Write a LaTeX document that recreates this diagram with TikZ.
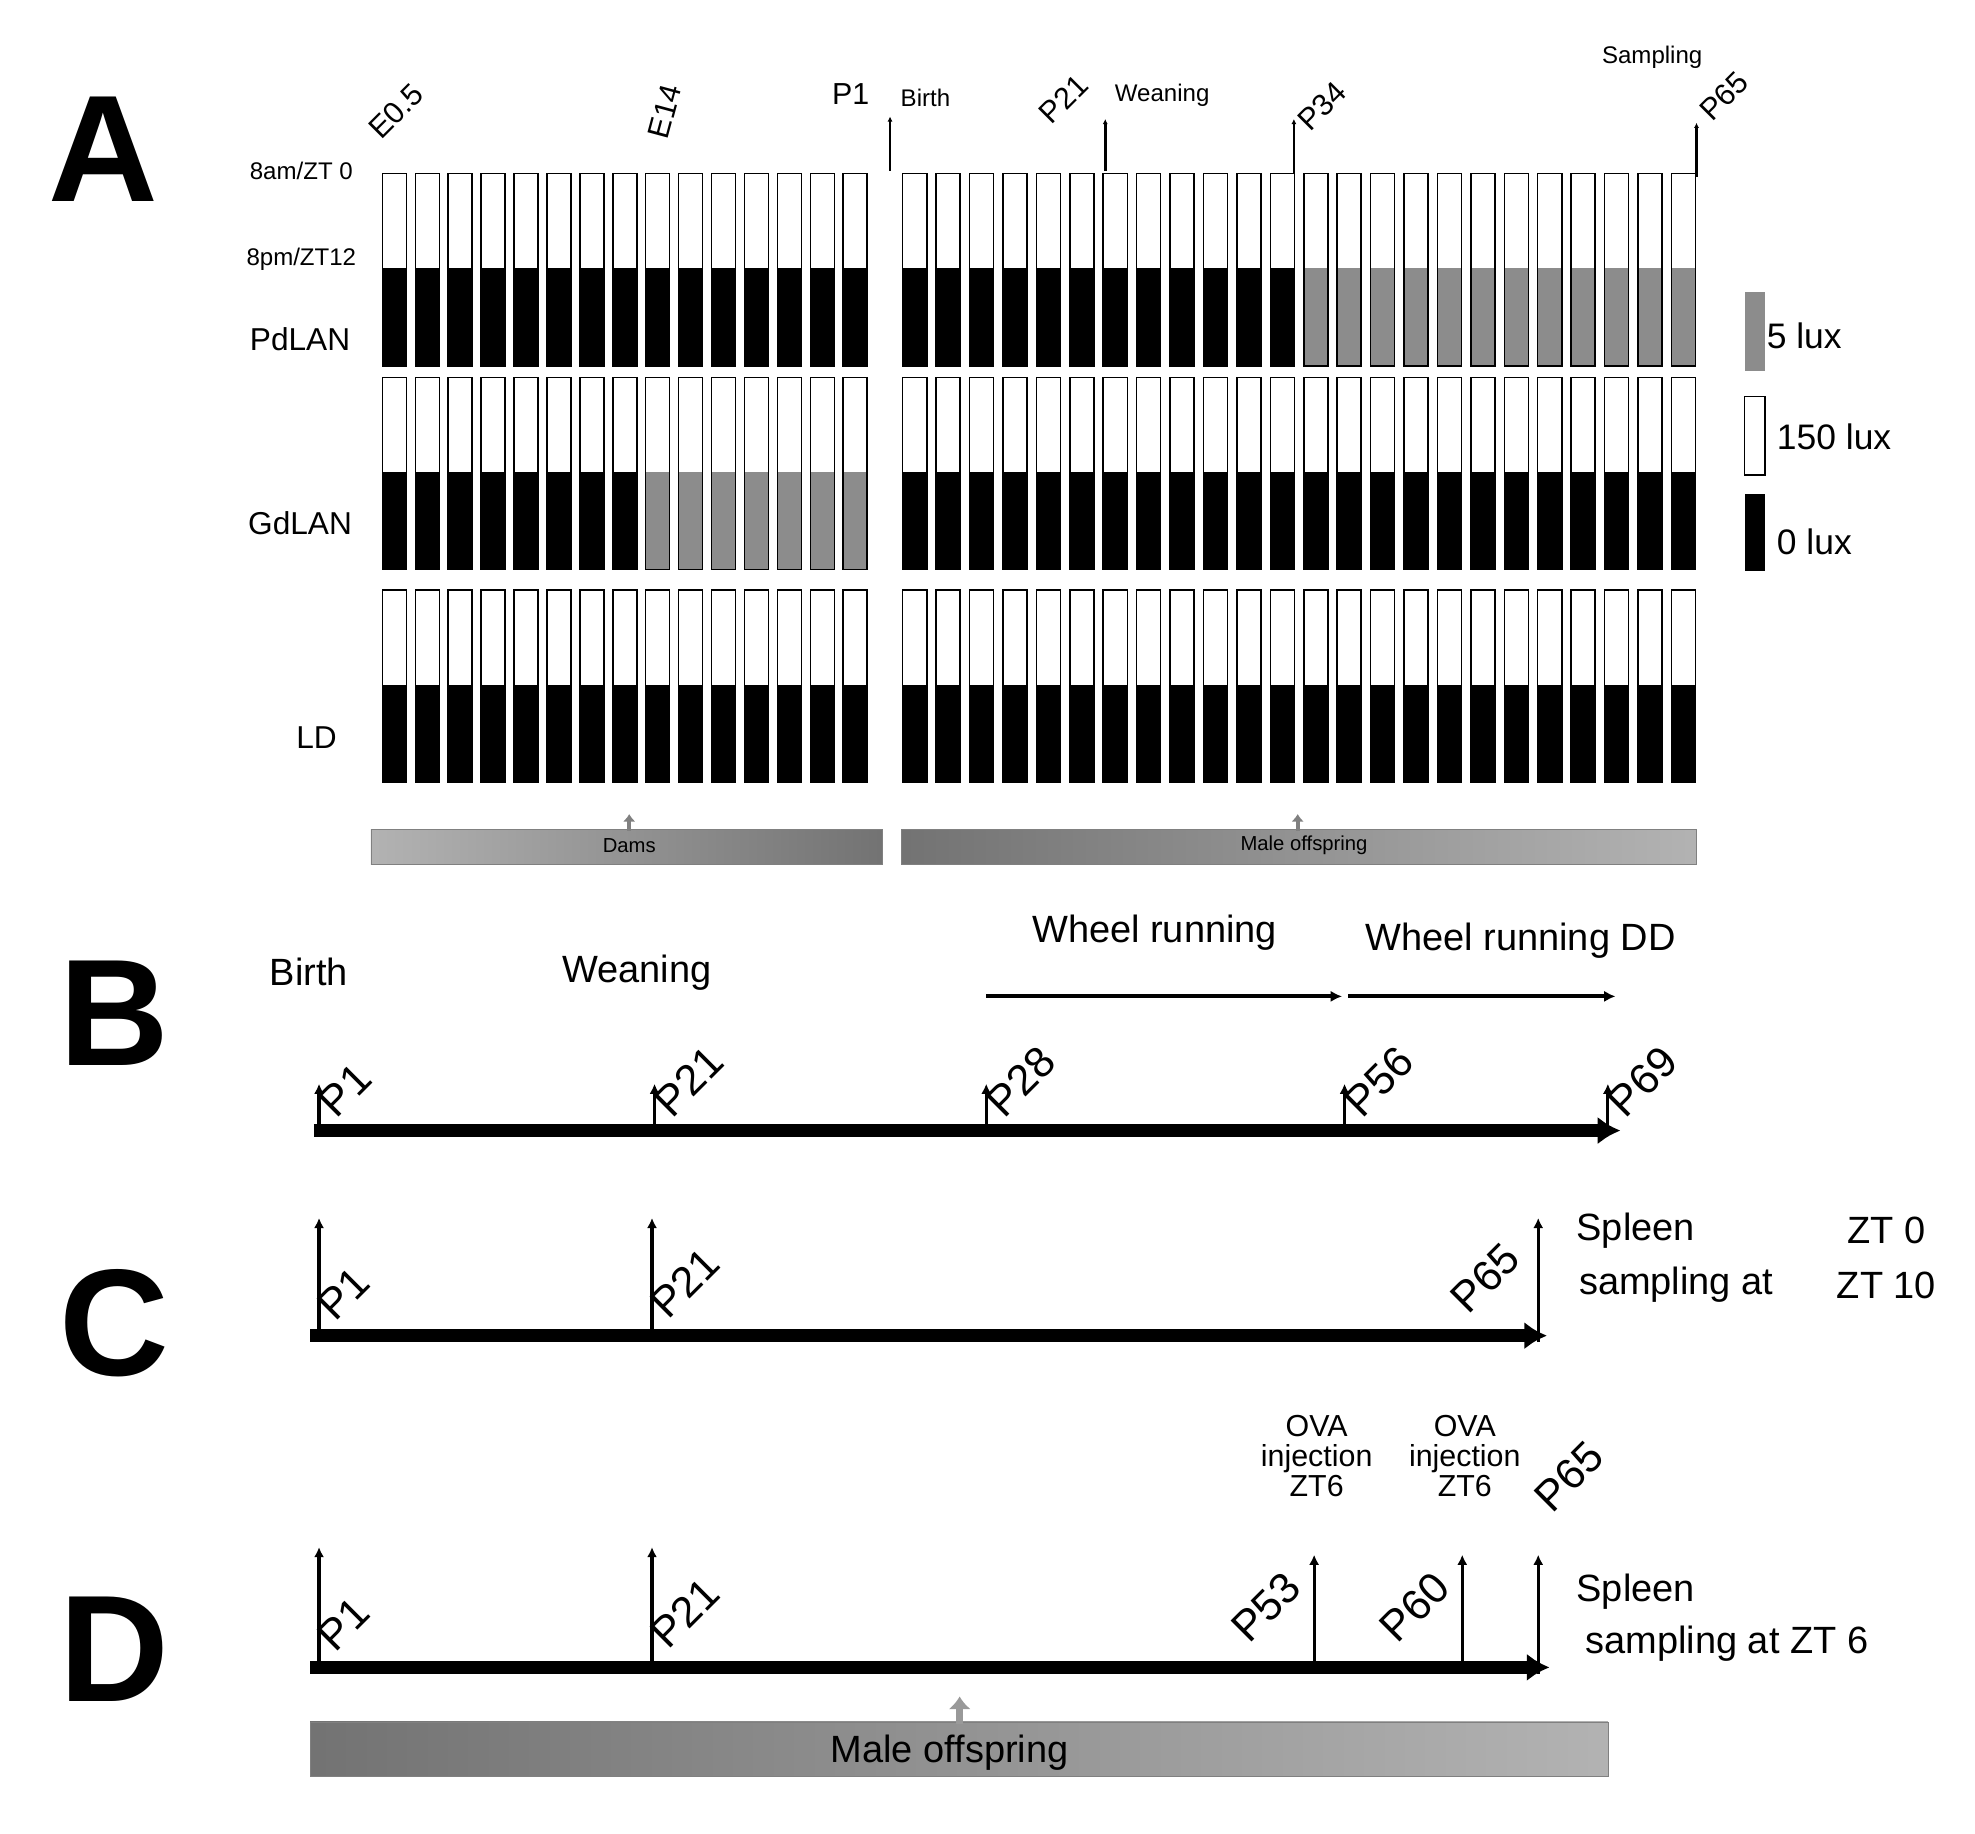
\documentclass[tikz,border=0pt]{standalone}
\usepackage{fontspec}
\setmainfont{Liberation Sans}
\usetikzlibrary{arrows.meta}
\begin{document}
\begin{tikzpicture}[x=1pt,y=-1pt,
  bar/.style={draw=black,line width=1.2pt},
  fs/.style={font=\fontsize{#1}{#1}\selectfont},
  panel/.style={font=\fontsize{120}{120}\selectfont\bfseries},
  axis/.style={line width=10pt,-{Latex[length=18pt,width=22pt]}},
  tick/.style={line width=2.5pt,-{Latex[length=8pt,width=8pt]}},
  rot/.style={rotate=45,anchor=base west,inner sep=0pt},
  rotr/.style={rotate=45,anchor=base east,inner sep=0pt}]
\useasboundingbox (0,0) rectangle (1560,1448);
\fill[white] (0,0) rectangle (1560,1448);
% ---------- Panel A ----------
\node[panel] (A) at (82,118) {A};
\node[fs=19] (am) at (238,135) {8am/ZT 0};
\node[fs=19] (pm) at (238,205) {8pm/ZT12};
\node[fs=25] (pd) at (237,268) {PdLAN};
\node[fs=25] (gd) at (237,413) {GdLAN};
\node[fs=25] (ld) at (250,583) {LD};
% bars
\foreach \y/\gl/\gr in {137/99/11, 298/7/99, 466/99/99}{
  \foreach \i in {0,...,14}{
    \pgfmathsetmacro{\x}{302+26*\i}
    \pgfmathtruncatemacro{\g}{\i>\gl ? 1 : 0}
    \ifnum\g=1 \def\col{gray!90}\else\def\col{black}\fi
    \fill[\col] (\x,\y+75) rectangle (\x+19,\y+152);
    \draw[bar] (\x,\y) rectangle (\x+19,\y+152);
  }
  \foreach \i in {0,...,23}{
    \pgfmathsetmacro{\x}{713+26.4*\i}
    \pgfmathtruncatemacro{\g}{\i>\gr ? 1 : 0}
    \ifnum\g=1 \def\col{gray!90}\else\def\col{black}\fi
    \fill[\col] (\x,\y+75) rectangle (\x+19,\y+152);
    \draw[bar] (\x,\y) rectangle (\x+19,\y+152);
  }
}
% legend
\fill[gray!90] (1378,231) rectangle (1394,293);
\draw[bar,fill=white] (1378,313) rectangle (1394,375);
\fill[black] (1378,390) rectangle (1394,451);
\node[fs=28,anchor=west] (l5) at (1392,265) {5 lux};
\node[fs=28,anchor=west] (l150) at (1400,345) {150 lux};
\node[fs=28,anchor=west] (l0) at (1400,428) {0 lux};
% top labels
\node[fs=24,rotate=45] (e05) at (313,88) {E0.5};
\node[fs=24,rotate=75] (e14) at (525,88) {E14};
\node[fs=24] (p1a) at (672,74) {P1};
\node[fs=19] (birtha) at (731,77) {Birth};
\node[fs=24,rotate=45] (p21a) at (840,78) {P21};
\node[fs=19] (wean) at (918,75) {Weaning};
\node[fs=24,rotate=45] (p34a) at (1044,84) {P34};
\node[fs=19] (samp) at (1305,45) {Sampling};
\node[fs=24,rotate=45] (p65a) at (1362,76) {P65};
\coordinate (t1a) at (703,135); \coordinate (t1b) at (703,92);
\coordinate (t2a) at (873,135); \coordinate (t2b) at (873,94);
\coordinate (t3a) at (1022,137); \coordinate (t3b) at (1022,94);
\coordinate (t4a) at (1340,140); \coordinate (t4b) at (1340,97);
\foreach \a/\b in {t1a/t1b,t2a/t2b,t3a/t3b,t4a/t4b}
  \draw[line width=2pt,-{Latex[length=4pt,width=4pt]}] (\a) -- (\b);
% dams / offspring bars
\shade[left color=black!30,right color=black!55] (293,655) rectangle (697,683);
\draw[gray] (293,655) rectangle (697,683);
\node[fs=16] (dams) at (497,668) {Dams};
\shade[left color=black!55,right color=black!30] (712,655) rectangle (1340,683);
\draw[gray] (712,655) rectangle (1340,683);
\node[fs=16] (moa) at (1030,668) {Male offspring};
\draw[gray,line width=3pt,-{Latex[length=6pt,width=10pt]}] (497,656) -- (497,643);
\draw[gray,line width=3pt,-{Latex[length=6pt,width=10pt]}] (1025,656) -- (1025,643);
% ---------- Panel B ----------
\node[panel] (B) at (90,800) {B};
\coordinate (b0) at (248,893); \coordinate (b1) at (1280,893);
\draw[axis] (b0) -- (b1);
\foreach \x/\l/\n in {252/P1/bp1,517/P21/bp21,779/P28/bp28,1062/P56/bp56,1270/P69/bp69}{
  \draw[tick] (\x,890) -- (\x,856);
  \node[fs=34,rot] (\n) at (\x+14,884) {\l};
}
\node[fs=30] (bb) at (244,768) {Birth};
\node[fs=30] (bw) at (503,768) {Weaning};
\node[fs=30] (bwr) at (912,737) {Wheel running};
\node[fs=30] (bwd) at (1201,743) {Wheel running DD};
\coordinate (w1) at (779,787); \coordinate (w2) at (1060,787);
\coordinate (w3) at (1065,787); \coordinate (w4) at (1276,787);
\draw[line width=3pt,-{Latex[length=9pt,width=9pt]}] (w1) -- (w2);
\draw[line width=3pt,-{Latex[length=9pt,width=9pt]}] (w3) -- (w4);
% ---------- Panel C ----------
\node[panel] (C) at (90,1045) {C};
\coordinate (c0) at (245,1055); \coordinate (c1) at (1222,1055);
\draw[axis] (c0) -- (c1);
\draw[tick] (252,1052) -- (252,962);
\draw[tick] (515,1052) -- (515,962);
\node[fs=34,rot] (cp1) at (265,1045) {P1};
\node[fs=34,rot] (cp21) at (528,1043) {P21};
\draw[tick] (1215,1060) -- (1215,962);
\node[fs=34,rotr] (cp65) at (1203,996) {P65};
\node[fs=30] (cs) at (1292,972) {Spleen};
\node[fs=30] (csa) at (1324,1015) {sampling at};
\node[fs=30] (cz0) at (1490,972) {ZT 0};
\node[fs=30] (cz10) at (1490,1015) {ZT 10};
% ---------- Panel D ----------
\node[panel] (D) at (90,1303) {D};
\coordinate (d0) at (245,1317); \coordinate (d1) at (1224,1317);
\draw[axis] (d0) -- (d1);
\draw[tick] (252,1314) -- (252,1222);
\draw[tick] (515,1314) -- (515,1222);
\draw[tick] (1038,1314) -- (1038,1228);
\draw[tick] (1155,1314) -- (1155,1228);
\draw[tick] (1215,1322) -- (1215,1228);
\node[fs=34,rot] (dp1) at (265,1306) {P1};
\node[fs=34,rot] (dp21) at (528,1304) {P21};
\node[fs=34,rotr] (dp53) at (1030,1256) {P53};
\node[fs=34,rotr] (dp60) at (1147,1256) {P60};
\node[fs=34,rot] (dp65) at (1226,1196) {P65};
\node[fs=24,align=center] (ova1) at (1040,1150) {OVA\\injection\\ZT6};
\node[fs=24,align=center] (ova2) at (1157,1150) {OVA\\injection\\ZT6};
\node[fs=30] (ds) at (1292,1257) {Spleen};
\node[fs=30] (dsa) at (1364,1298) {sampling at ZT 6};
\shade[left color=black!55,right color=black!30] (245,1360) rectangle (1270,1403);
\draw[gray] (245,1360) rectangle (1270,1403);
\node[fs=30] (mo) at (750,1384) {Male offspring};
\draw[gray!80,line width=6pt,-{Latex[length=10pt,width=18pt]}] (758,1362) -- (758,1340);
\end{tikzpicture}
\end{document}
